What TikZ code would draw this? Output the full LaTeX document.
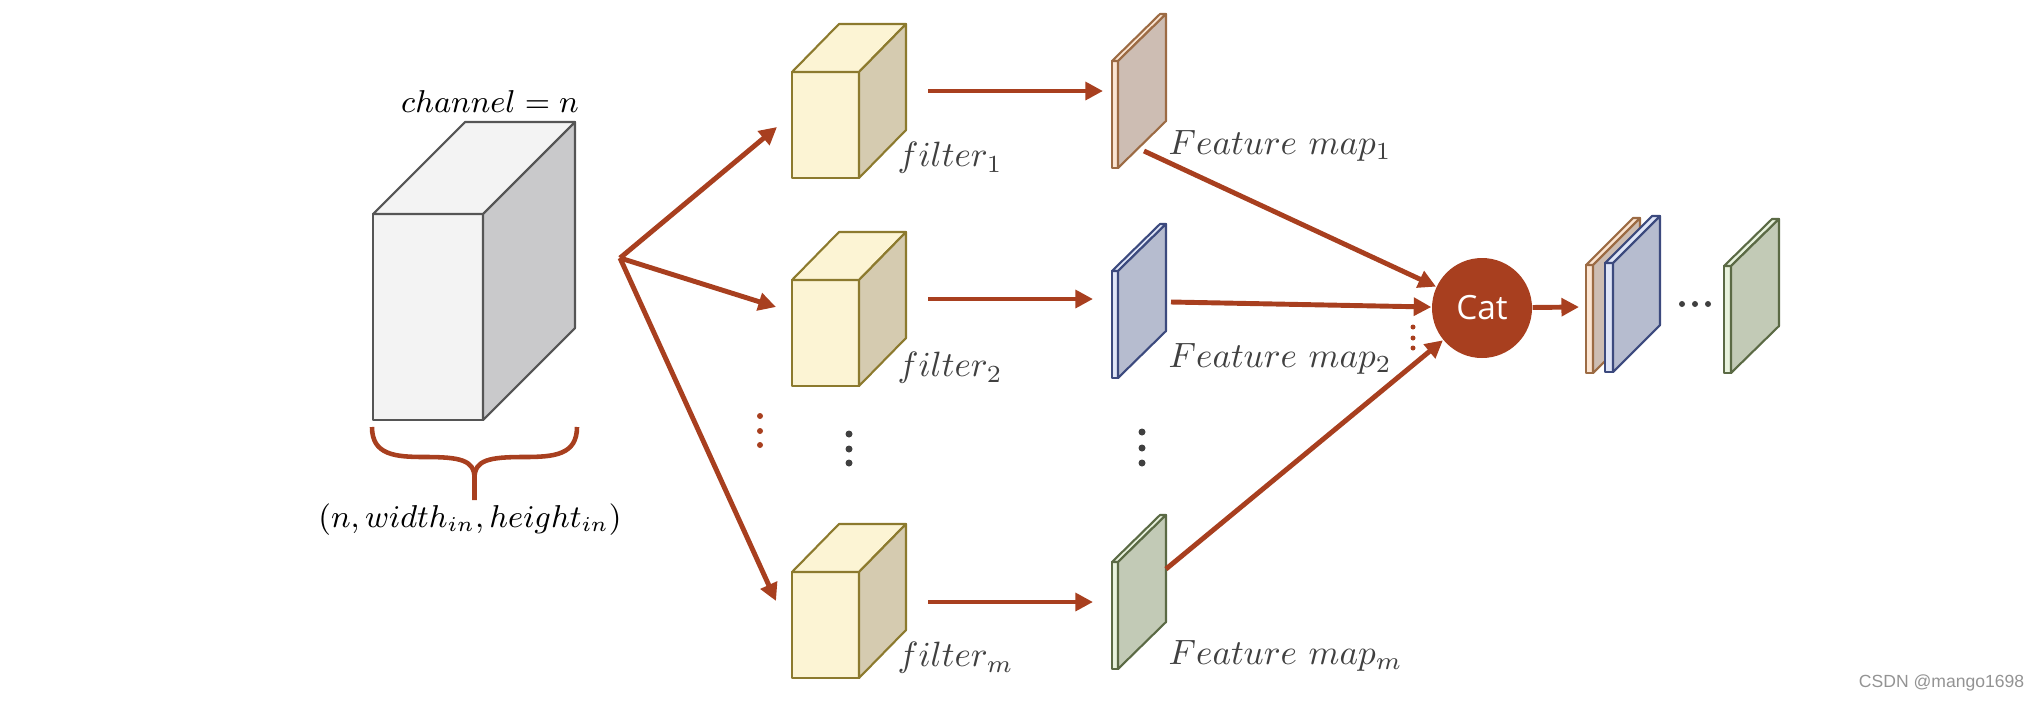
\documentclass[tikz,border=0pt]{standalone}
\usepackage{fontspec}
\newfontfamily\catfont{Open Sans}
\newfontfamily\markfont{Liberation Sans}
\usetikzlibrary{arrows.meta}

\definecolor{rust}{HTML}{A83F1F}
\definecolor{labelgrey}{HTML}{404040}
\definecolor{bigfront}{HTML}{F3F3F3}
\definecolor{bigside}{HTML}{C9C9CB}
\definecolor{bigline}{HTML}{555555}
\definecolor{filfront}{HTML}{FCF4D4}
\definecolor{filside}{HTML}{D5CBB0}
\definecolor{filline}{HTML}{8C7A2E}
\definecolor{onefront}{HTML}{FBE5D2}
\definecolor{oneside}{HTML}{CDBDB3}
\definecolor{oneline}{HTML}{9C6B44}
\definecolor{twofront}{HTML}{DFE5F7}
\definecolor{twoside}{HTML}{B6BCCF}
\definecolor{twoline}{HTML}{3C4A7E}
\definecolor{mfront}{HTML}{E8F2DD}
\definecolor{mside}{HTML}{C2CAB6}
\definecolor{mline}{HTML}{5B6A45}

% x, y, width, height, dx, dy, front, side, line
\newcommand{\drawbox}[9]{%
  \filldraw[draw=#9, fill=#7, boxline] (#1,#2) rectangle ++(#3,#4);
  \filldraw[draw=#9, fill=#7, boxline] (#1,#2+#4) -- ++(#5,#6) -- ++(#3,0) -- ++(-#5,-#6) -- cycle;
  \filldraw[draw=#9, fill=#8, boxline] (#1+#3,#2) -- ++(#5,#6) -- ++(0,#4) -- ++(-#5,-#6) -- cycle;
}

\tikzset{
  boxline/.style={line width=0.6pt, line join=round},
  arr/.style={draw=rust, line width=1.4pt, -{Triangle[length=5pt, width=5pt]}},
  mathlabel/.style={text=labelgrey, inner sep=0pt, anchor=west},
  dimlabel/.style={font=\fontsize{9pt}{11pt}\selectfont},
  reddot/.style={fill=rust},
  greydot/.style={fill=labelgrey},
}

\begin{document}
\begin{tikzpicture}
    \useasboundingbox (0, 0) rectangle (20.4, 7.0);

    % input
    \drawbox{3.73}{2.80}{1.10}{2.06}{0.92}{0.92}{bigfront}{bigside}{bigline}
    \node[dimlabel] (chan) at (4.90, 5.98) {$channel = n$};
    \draw[rust, line width=1.3pt] (3.72, 2.73) .. controls (3.72, 2.45) and (3.95, 2.43) .. (4.25, 2.43)
        .. controls (4.60, 2.43) and (4.745, 2.40) .. (4.745, 2.22) -- (4.745, 2.00);
    \draw[rust, line width=1.3pt] (5.77, 2.73) .. controls (5.77, 2.45) and (5.54, 2.43) .. (5.24, 2.43)
        .. controls (4.89, 2.43) and (4.745, 2.40) .. (4.745, 2.22);
    \node[dimlabel] (dims) at (4.70, 1.80) {$(n, width_{in}, height_{in})$};

    % filters
    \drawbox{7.92}{5.22}{0.67}{1.06}{0.47}{0.48}{filfront}{filside}{filline}
    \drawbox{7.92}{3.14}{0.67}{1.06}{0.47}{0.48}{filfront}{filside}{filline}
    \drawbox{7.92}{0.22}{0.67}{1.06}{0.47}{0.48}{filfront}{filside}{filline}
    \node[mathlabel] (fil1) at (8.97, 5.42) {$filter_1$};
    \node[mathlabel] (fil2) at (8.97, 3.32) {$filter_2$};
    \node[mathlabel] (film) at (8.97, 0.42) {$filter_m$};

    % feature maps
    \drawbox{11.12}{5.32}{0.06}{1.07}{0.48}{0.47}{onefront}{oneside}{oneline}
    \drawbox{11.12}{3.22}{0.06}{1.07}{0.48}{0.47}{twofront}{twoside}{twoline}
    \drawbox{11.12}{0.31}{0.06}{1.07}{0.48}{0.47}{mfront}{mside}{mline}
    \node[mathlabel] (map1) at (11.68, 5.54) {$Feature\ map_1$};
    \node[mathlabel] (map2) at (11.68, 3.41) {$Feature\ map_2$};
    \node[mathlabel] (mapm) at (11.68, 0.44) {$Feature\ map_m$};

    % concat
    \node[circle, fill=rust, minimum size=1.0cm, inner sep=0pt, text=white] (cat) at (14.82, 3.92) {\catfont\fontsize{9.5pt}{11pt}\selectfont Cat};

    % output stack
    \drawbox{15.86}{3.27}{0.07}{1.08}{0.47}{0.47}{onefront}{oneside}{oneline}
    \drawbox{16.05}{3.28}{0.08}{1.09}{0.47}{0.47}{twofront}{twoside}{twoline}
    \drawbox{17.24}{3.27}{0.07}{1.07}{0.48}{0.47}{mfront}{mside}{mline}

    % arrows
    \coordinate (split) at (6.20, 4.42);
    \coordinate (in1) at (7.77, 5.73);
    \coordinate (in2) at (7.76, 3.93);
    \coordinate (inm) at (7.76, 0.99);
    \draw[arr] (split) -- (in1);
    \draw[arr] (split) -- (in2);
    \draw[arr] (split) -- (inm);

    \coordinate (out1) at (9.28, 6.09);
    \coordinate (out2) at (9.28, 4.01);
    \coordinate (outm) at (9.28, 0.98);
    \coordinate (to1) at (11.03, 6.09);
    \coordinate (to2) at (10.93, 4.01);
    \coordinate (tom) at (10.93, 0.98);
    \draw[arr] (out1) -- (to1);
    \draw[arr] (out2) -- (to2);
    \draw[arr] (outm) -- (tom);

    \coordinate (from1) at (11.44, 5.49);
    \coordinate (from2) at (11.71, 3.98);
    \coordinate (fromm) at (11.66, 1.31);
    \draw[arr] (from1) -- (cat);
    \draw[arr] (from2) -- (cat);
    \draw[arr] (fromm) -- (cat);

    \coordinate (stack) at (15.79, 3.93);
    \draw[arr] (cat) -- (stack);

    % dots
    \foreach \y in {2.84, 2.69, 2.55} \fill[reddot] (7.60, \y) circle (0.03);
    \foreach \y in {2.66, 2.51, 2.37} \fill[greydot] (8.49, \y) circle (0.035);
    \foreach \y in {2.68, 2.52, 2.37} \fill[greydot] (11.42, \y) circle (0.035);
    \foreach \y in {3.73, 3.62, 3.52} \fill[reddot] (14.13, \y) circle (0.025);
    \foreach \x in {16.82, 16.95, 17.08} \fill[greydot] (\x, 3.96) circle (0.03);

    \node[text=gray!85, anchor=east, inner sep=0pt] (mark) at (20.25, 0.17) {\markfont\fontsize{5pt}{6pt}\selectfont CSDN @mango1698};
\end{tikzpicture}
\end{document}
